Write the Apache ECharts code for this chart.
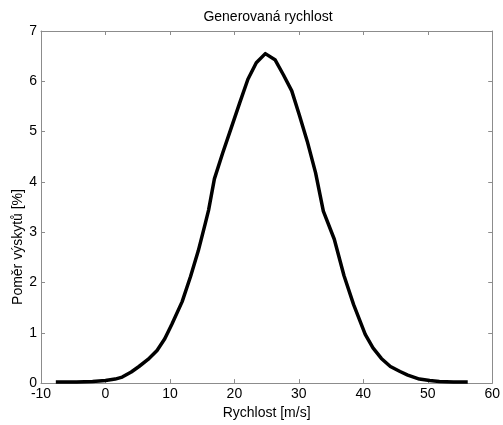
<!DOCTYPE html>
<html>
<head>
<meta charset="utf-8">
<script src="https://cdn.jsdelivr.net/npm/echarts@6/dist/echarts.min.js"></script>
<style>
  html, body { margin: 0; padding: 0; background: #ffffff; }
  #chart { width: 503px; height: 425px; }
</style>
</head>
<body>
<div id="chart"></div>
<script>
// Speed samples [m/s] and their relative frequency [%]
const speeds = [-7.7, -4.5, -2.0, 0.0, 1.5, 2.6, 4.0, 5.2, 6.6, 8.0, 9.2, 10.3, 11.9, 13.2, 14.4, 15.5, 16.0, 16.9, 18.2, 19.5, 20.8, 22.1, 23.4, 24.8, 26.3, 27.6, 28.9, 30.1, 31.3, 32.6, 33.8, 35.5, 37.0, 38.5, 40.3, 41.5, 42.8, 44.2, 45.7, 46.9, 48.7, 50.3, 51.8, 54.0, 56.2];
const shares = [0.02, 0.02, 0.03, 0.05, 0.08, 0.12, 0.22, 0.33, 0.47, 0.65, 0.88, 1.17, 1.62, 2.12, 2.63, 3.18, 3.44, 4.06, 4.58, 5.07, 5.56, 6.04, 6.37, 6.55, 6.43, 6.13, 5.81, 5.32, 4.81, 4.18, 3.42, 2.86, 2.14, 1.56, 0.97, 0.70, 0.49, 0.33, 0.23, 0.16, 0.08, 0.05, 0.03, 0.02, 0.02];

const xTicks = { min: -10, max: 60, step: 10 };
const yTicks = { min: 0, max: 7, step: 1 };

const titleText = 'Generovaná rychlost';
const xName = 'Rychlost [m/s]';
const yName = 'Poměr výskytů [%]';

const font = 'Liberation Sans, Arial, Helvetica, sans-serif';
const axisGrey = '#8c8c8c';

const chart = echarts.init(document.getElementById('chart'), null, { renderer: 'canvas' });

const baseAxis = {
  type: 'value',
  axisLine: { show: true, onZero: false, lineStyle: { color: axisGrey, width: 1 } },
  axisTick: { show: true, inside: true, length: 4, lineStyle: { color: axisGrey } },
  splitLine: { show: false },
  axisLabel: { color: '#000', fontFamily: font, fontSize: 14 }
};

chart.setOption({
  backgroundColor: '#ffffff',
  animation: false,
  grid: { left: 41, right: 7, top: 31, bottom: 35, containLabel: false },
  xAxis: [
    Object.assign({}, baseAxis, {
      position: 'bottom',
      min: xTicks.min, max: xTicks.max, interval: xTicks.step,
      axisLabel: Object.assign({}, baseAxis.axisLabel, { margin: 4 }),
      name: xName,
      nameLocation: 'middle',
      nameGap: 19,
      nameTextStyle: { fontFamily: font, fontSize: 14, color: '#000' }
    }),
    Object.assign({}, baseAxis, {
      position: 'top',
      min: xTicks.min, max: xTicks.max, interval: xTicks.step,
      axisLabel: { show: false }
    })
  ],
  yAxis: [
    Object.assign({}, baseAxis, {
      position: 'left',
      min: yTicks.min, max: yTicks.max, interval: yTicks.step,
      axisLabel: Object.assign({}, baseAxis.axisLabel, { margin: 4 })
    }),
    Object.assign({}, baseAxis, {
      position: 'right',
      min: yTicks.min, max: yTicks.max, interval: yTicks.step,
      axisLabel: { show: false }
    })
  ],
  graphic: [{
    type: 'text',
    x: 268,
    y: 17,
    style: {
      text: titleText,
      fill: '#000',
      font: '14px ' + font,
      align: 'center',
      verticalAlign: 'middle'
    }
  }, {
    type: 'text',
    x: 18,
    y: 247,
    rotation: Math.PI / 2,
    style: {
      text: yName,
      fill: '#000',
      font: '14px ' + font,
      align: 'center',
      verticalAlign: 'middle'
    }
  }],
  series: [{
    type: 'line',
    xAxisIndex: 0,
    yAxisIndex: 0,
    data: speeds.map((v, i) => [v, shares[i]]),
    showSymbol: false,
    smooth: false,
    lineStyle: { color: '#000', width: 3.5, join: 'round' }
  }]
});
</script>
</body>
</html>
